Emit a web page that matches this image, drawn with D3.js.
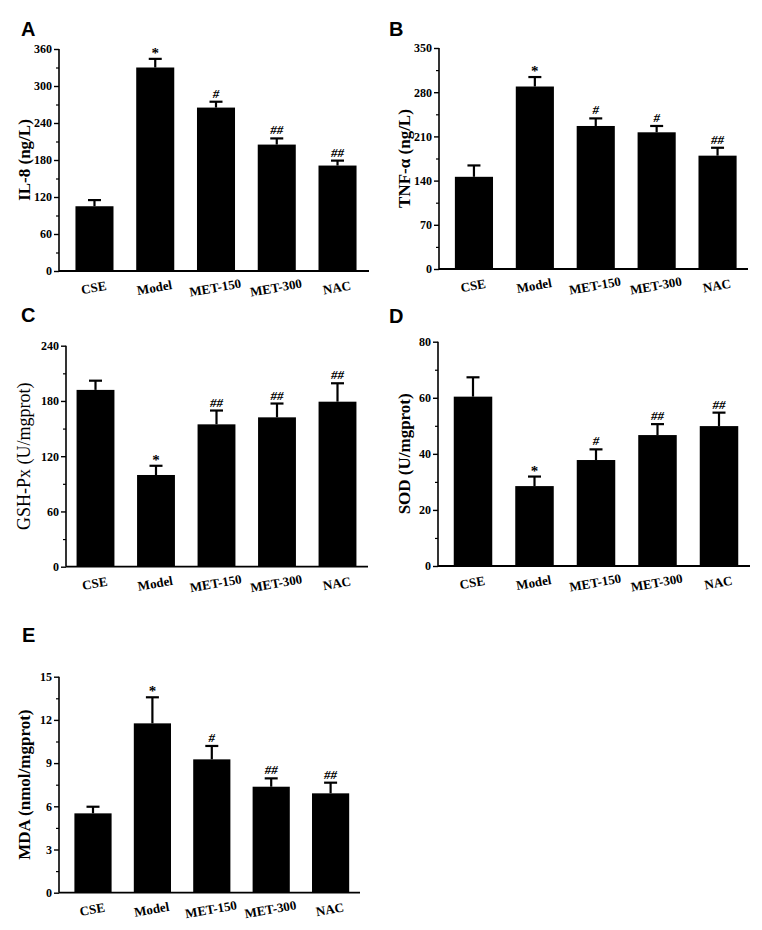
<!DOCTYPE html>
<html><head><meta charset="utf-8">
<script src="https://cdn.jsdelivr.net/npm/d3@7/dist/d3.min.js"></script>
<style>
html,body{margin:0;padding:0;background:#fff;}
svg{display:block;}
.tick text{font-family:"Liberation Serif","Times New Roman",serif;font-weight:bold;}
</style></head>
<body>
<svg id="c" width="762" height="930"></svg>
<script>
const categories = ["CSE","Model","MET-150","MET-300","NAC"];

const il8Values   = [105, 330, 265, 205, 171];
const il8Errors   = [10, 14, 9.5, 10, 8];
const il8Marks    = ["", "*", "#", "##", "##"];
const il8Ticks    = [0, 60, 120, 180, 240, 300, 360];

const tnfValues   = [146, 289, 226.5, 216.5, 179.5];
const tnfErrors   = [18, 15, 12, 10, 12.5];
const tnfMarks    = ["", "*", "#", "#", "##"];
const tnfTicks    = [0, 70, 140, 210, 280, 350];

const gshValues   = [192, 99.6, 154.6, 162.2, 179.2];
const gshErrors   = [10, 10, 15, 15, 20];
const gshMarks    = ["", "*", "##", "##", "##"];
const gshTicks    = [0, 60, 120, 180, 240];

const sodValues   = [60.4, 28.5, 37.8, 46.7, 49.9];
const sodErrors   = [6.9, 3.4, 3.8, 3.9, 4.8];
const sodMarks    = ["", "*", "#", "##", "##"];
const sodTicks    = [0, 20, 40, 60, 80];

const mdaValues   = [5.51, 11.76, 9.26, 7.36, 6.9];
const mdaErrors   = [0.46, 1.81, 0.93, 0.58, 0.74];
const mdaMarks    = ["", "*", "#", "##", "##"];
const mdaTicks    = [0, 3, 6, 9, 12, 15];

const panels = [
  {letter:"A", lx:21, ly:36, label:"IL-8 (ng/L)", labelX:24, values:il8Values, errors:il8Errors, marks:il8Marks, ticks:il8Ticks,
   axisX:59, axisEnd:369, yTop:49, yBot:271, band:[64.1,367.9]},
  {letter:"B", lx:389, ly:36, label:"TNF-α (ng/L)", labelX:404, values:tnfValues, errors:tnfErrors, marks:tnfMarks, ticks:tnfTicks,
   axisX:439, axisEnd:748, yTop:48, yBot:269, band:[443.5,748]},
  {letter:"C", lx:21, ly:322, label:"GSH-Px (U/mgprot)", labelX:24, regular:true, values:gshValues, errors:gshErrors, marks:gshMarks, ticks:gshTicks,
   axisX:66, axisEnd:368, yTop:345.7, yBot:566.7, band:[65.25,367.75]},
  {letter:"D", lx:389, ly:323, label:"SOD (U/mgprot)", labelX:404, values:sodValues, errors:sodErrors, marks:sodMarks, ticks:sodTicks,
   axisX:438, axisEnd:750, yTop:341.7, yBot:566, band:[442.25,749.75]},
  {letter:"E", lx:22, ly:642, label:"MDA (nmol/mgprot)", labelX:24, values:mdaValues, errors:mdaErrors, marks:mdaMarks, ticks:mdaTicks,
   axisX:59, axisEnd:360, yTop:676.7, yBot:892.7, band:[63.3,360.3]}
];

const svg = d3.select("#c");
const serif = '"Liberation Serif","Times New Roman",serif';

panels.forEach(p => {
  const g = svg.append("g");
  const yMax = p.ticks[p.ticks.length-1];
  const y = d3.scaleLinear().domain([0, yMax]).range([p.yBot, p.yTop]);
  const x = d3.scaleBand().domain(categories).range(p.band).paddingInner(0.374).paddingOuter(0.187);

  g.append("text").attr("x", p.lx).attr("y", p.ly).text(p.letter)
    .attr("font-family", "Liberation Sans, Arial, sans-serif").attr("font-weight", "bold")
    .attr("font-size", 20).attr("fill", "#000");

  g.selectAll("rect.bar").data(p.values).enter().append("rect")
    .attr("x", (d,i) => x(categories[i]))
    .attr("width", x.bandwidth())
    .attr("y", d => y(d))
    .attr("height", d => y(0) - y(d))
    .attr("fill", "#000");

  const cap = 6.5;
  p.values.forEach((v,i) => {
    const cx = x(categories[i]) + x.bandwidth()/2;
    const top = y(v + p.errors[i]);
    g.append("line").attr("x1", cx).attr("x2", cx).attr("y1", y(v)).attr("y2", top)
      .attr("stroke", "#000").attr("stroke-width", 2.2);
    g.append("line").attr("x1", cx-cap).attr("x2", cx+cap).attr("y1", top).attr("y2", top)
      .attr("stroke", "#000").attr("stroke-width", 2.2);
    if (p.marks[i]) {
      g.append("text").attr("x", cx).attr("y", top - (p.marks[i] === "*" ? 1 : 4))
        .attr("text-anchor", "middle").attr("font-family", serif)
        .attr("font-weight", "bold").attr("font-style", p.marks[i] === "*" ? "normal" : "italic")
        .attr("font-size", p.marks[i] === "*" ? 15 : 13)
        .attr("fill", "#000").text(p.marks[i]);
    }
  });

  const yAxis = d3.axisLeft(y).tickValues(p.ticks).tickSize(5).tickPadding(2).tickFormat(d3.format("d"));
  const ya = g.append("g").attr("transform", `translate(${p.axisX},0)`).call(yAxis);
  ya.select(".domain").attr("stroke-width", 1.6).attr("d", `M0,${p.yTop}V${p.yBot}`);
  ya.selectAll(".tick line").attr("stroke-width", 1.4);
  ya.selectAll(".tick text").attr("font-size", 12).attr("font-family", serif).attr("font-weight", "bold");
  const minors = [];
  for (let k=0; k<p.ticks.length-1; k++) minors.push((p.ticks[k]+p.ticks[k+1])/2);
  const ym = d3.axisLeft(y).tickValues(minors).tickSize(3).tickFormat("");
  const yma = g.append("g").attr("transform", `translate(${p.axisX},0)`).call(ym);
  yma.select(".domain").remove();
  yma.selectAll(".tick line").attr("stroke-width", 1.2);

  const xAxis = d3.axisBottom(x).tickSize(0).tickPadding(0);
  const xa = g.append("g").attr("transform", `translate(0,${p.yBot})`).call(xAxis);
  xa.select(".domain").attr("stroke-width", 1.8).attr("d", `M${p.axisX},0H${p.axisEnd}`);
  xa.selectAll(".tick text")
    .attr("font-size", 13).attr("font-family", serif).attr("font-weight", "bold")
    .attr("dy", null).attr("y", 0)
    .attr("transform", "translate(0,21) rotate(-10)");

  g.append("text")
    .attr("transform", `translate(${p.labelX},${(p.yTop+p.yBot)/2}) rotate(-90)`)
    .attr("text-anchor", "middle").attr("dominant-baseline", "central")
    .attr("font-family", serif).attr("font-weight", p.regular ? "normal" : "bold")
    .attr("font-size", p.regular ? 18 : 17).attr("fill", "#000")
    .text(p.label);
});
</script>
</body></html>
